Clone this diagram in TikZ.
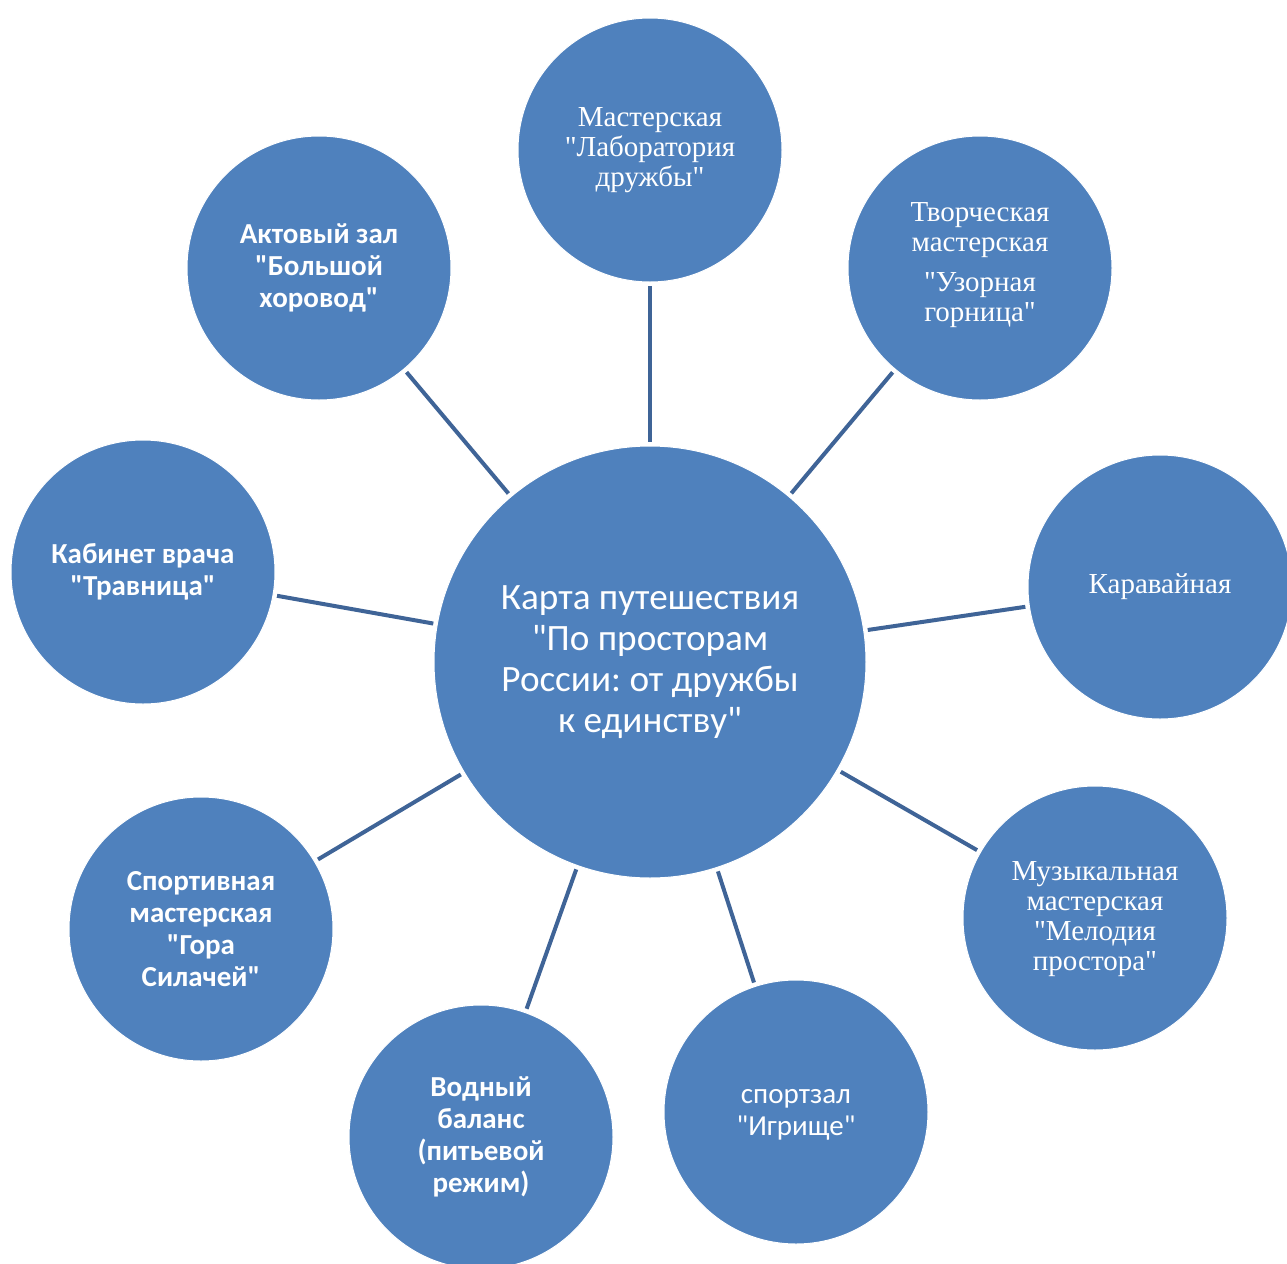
\documentclass[tikz,border=0pt]{standalone}
\usepackage{fontspec}
\newfontfamily\timesfont{Liberation Serif}
\newfontfamily\calibri{Carlito}
\usepackage[dvipsnames]{xcolor}
\definecolor{officeblue}{HTML}{4F81BD}
\definecolor{spokeblue}{HTML}{3F6497}
\frenchspacing

\begin{document}
\begin{tikzpicture}[x=0.5pt,y=-0.5pt,thick,
        main node/.style={circle,fill=officeblue,draw=white,line width=0.5pt,text=white,align=center,inner sep=0pt,minimum size=132pt},
        serif node/.style={main node,font=\timesfont\fontsize{14.5}{15}\selectfont},
        sans node/.style={main node,font=\calibri\fontsize{14.5}{16}\selectfont},
        bold node/.style={main node,font=\calibri\bfseries\fontsize{14.5}{16}\selectfont}]
            \useasboundingbox (0,0) rectangle (1287,1264);
            \clip (0,0) rectangle (1287,1264);

            \node[main node, minimum size=216pt, font=\calibri\fontsize{18.6}{20.4}\selectfont] (0) at (650,662)
                {Карта путешествия\\"По просторам\\России: от дружбы\\к единству"};

            \node[serif node] (1) at (650,150){Мастерская\\"Лаборатория\\дружбы"};
            \node[serif node] (2) at (980,268){\\[-8pt]Творческая\\мастерская\\[5pt]"Узорная\\горница"};
            \node[serif node] (3) at (1160,587){Каравайная};
            \node[serif node] (4) at (1095,918){\\[-4pt]Музыкальная\\мастерская\\"Мелодия\\простора"};
            \node[sans node] (5) at (796,1112){\\[-6pt]спортзал\\"Игрище"};
            \node[bold node] (6) at (481,1137){Водный\\баланс\\(питьевой\\режим)};
            \node[bold node] (7) at (201,929){Спортивная\\мастерская\\"Гора\\Силачей"};
            \node[bold node] (8) at (143,572){Кабинет врача\\"Травница"};
            \node[bold node] (9) at (319,268){Актовый зал\\"Большой\\хоровод"};

            \path[draw=spokeblue,line width=2pt,shorten <=1.8pt,shorten >=1.8pt]
                (0) edge (1)
                (0) edge (2)
                (0) edge (3)
                (0) edge (4)
                (0) edge (5)
                (0) edge (6)
                (0) edge (7)
                (0) edge (8)
                (0) edge (9)
                ;
        \end{tikzpicture}
\end{document}
